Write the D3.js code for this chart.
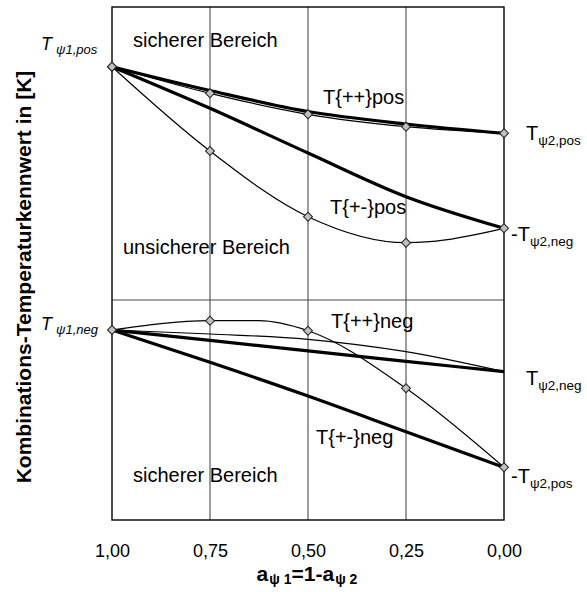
<!DOCTYPE html>
<html>
<head>
<meta charset="utf-8">
<script src="https://cdn.jsdelivr.net/npm/d3@7"></script>
<style>
  html, body { margin: 0; padding: 0; background: #fff; }
  svg { display: block; font-family: "Liberation Sans", Arial, sans-serif; }
</style>
</head>
<body>
<svg id="chart" width="587" height="592"></svg>
<script>
// Share of load case 1 (a_psi1); the x axis runs from 1,00 down to 0,00
const aTicks = [1.00, 0.75, 0.50, 0.25, 0.00];

// Upper half: positive combination values
const tPlusPlusPos      = [23.33, 20.67, 18.57, 17.33, 16.67];
const tPlusPlusPosRef   = [23.33, 20.95, 18.85, 17.60, 16.67];
const aPlusMinusPos     = [1.00, 0.75, 0.50, 0.25, 0.19, 0.00];
const tPlusMinusPos     = [23.33, 14.90, 8.33, 5.73, 5.83, 7.17];
const tPlusMinusPosRef  = [23.33, 19.17, 14.70, 10.33, 7.17];

// Lower half: negative combination values
const aPlusPlusNeg      = [1.00, 0.75, 0.625, 0.50, 0.25, 0.00];
const tPlusPlusNeg      = [-3.00, -2.07, -2.07, -3.07, -8.83, -16.73];
const tNegThin          = [-3.00, -3.40, -3.93, -5.17, -7.17];
const tNegRef           = [-3.00, -4.04, -5.09, -6.13, -7.17];
const tPlusMinusNegRef  = [-3.00, -6.23, -9.60, -13.17, -16.73];

const tDomain = [-22, 29.3];

const svg = d3.select("#chart");
const plotLeft = 112, plotRight = 504, plotTop = 7, plotBottom = 520;

const x = d3.scaleLinear().domain([1, 0]).range([plotLeft, plotRight]);
const y = d3.scaleLinear().domain(tDomain).range([plotBottom, plotTop]);

const zip = (as, ts) => as.map((a, i) => ({ a, t: ts[i] }));

// vertical grid lines
svg.append("g").selectAll("line")
  .data(aTicks.slice(1, -1))
  .join("line")
  .attr("x1", d => x(d)).attr("x2", d => x(d))
  .attr("y1", plotTop).attr("y2", plotBottom)
  .attr("stroke", "#4a4a4a").attr("stroke-width", 1.1);

// zero line separating positive and negative half
svg.append("line")
  .attr("x1", plotLeft).attr("x2", plotRight)
  .attr("y1", y(0)).attr("y2", y(0))
  .attr("stroke", "#4a4a4a").attr("stroke-width", 1.1);

// plot frame
svg.append("rect")
  .attr("x", plotLeft).attr("y", plotTop)
  .attr("width", plotRight - plotLeft).attr("height", plotBottom - plotTop)
  .attr("fill", "none").attr("stroke", "#000").attr("stroke-width", 1.4);

// region labels
const region = svg.append("g").attr("font-size", 20).attr("fill", "#000");
region.append("text").attr("x", 133).attr("y", 47).text("sicherer Bereich");
region.append("text").attr("x", 123).attr("y", 254).text("unsicherer Bereich");
region.append("text").attr("x", 133).attr("y", 482).text("sicherer Bereich");

const line = d3.line()
  .x(d => x(d.a))
  .y(d => y(d.t))
  .curve(d3.curveMonotoneX);

const series = [
  { pts: zip(aTicks, tPlusPlusPosRef), w: 3.2, marked: false },
  { pts: zip(aTicks, tPlusPlusPos), w: 1.2, marked: true },
  { pts: zip(aTicks, tPlusMinusPosRef), w: 3.2, marked: false },
  { pts: zip(aPlusMinusPos, tPlusMinusPos), w: 1.2, marked: true },
  { pts: zip(aTicks, tNegRef), w: 3.2, marked: false },
  { pts: zip(aTicks, tNegThin), w: 1.2, marked: false },
  { pts: zip(aTicks, tPlusMinusNegRef), w: 3.2, marked: false },
  { pts: zip(aPlusPlusNeg, tPlusPlusNeg), w: 1.2, marked: true }
];

svg.append("g").selectAll("path")
  .data(series)
  .join("path")
  .attr("d", d => line(d.pts))
  .attr("fill", "none")
  .attr("stroke", "#000")
  .attr("stroke-width", d => d.w)
  .attr("stroke-linejoin", "round");

// diamond markers on the quarter steps of the marked series
const isQuarter = a => Math.abs(a * 4 - Math.round(a * 4)) < 1e-6;
const markers = series.filter(s => s.marked).flatMap(s => s.pts.filter(p => isQuarter(p.a)));
const diamond = d3.symbol().type(d3.symbolSquare).size(40);
svg.append("g").selectAll("path")
  .data(markers)
  .join("path")
  .attr("d", diamond)
  .attr("transform", d => `translate(${x(d.a)},${y(d.t)}) rotate(45)`)
  .attr("fill", "#c0c0c0")
  .attr("stroke", "#222")
  .attr("stroke-width", 1);

// curve names
const names = svg.append("g").attr("font-size", 20);
names.append("text").attr("x", 323).attr("y", 104).text("T{++}pos");
names.append("text").attr("x", 330).attr("y", 214).text("T{+-}pos");
names.append("text").attr("x", 331).attr("y", 328).text("T{++}neg");
names.append("text").attr("x", 316).attr("y", 444).text("T{+-}neg");

// end-point labels on the left (italic)
function leftLabel(yb, sub) {
  const t = svg.append("text").attr("x", 41).attr("y", yb)
    .attr("font-style", "italic").attr("font-size", 18);
  t.append("tspan").text("T");
  t.append("tspan").attr("dx", 4).attr("dy", 4).attr("font-size", 13).text(sub);
}
leftLabel(50, "ψ1,pos");
leftLabel(330, "ψ1,neg");

// end-point labels on the right
function rightLabel(xs, yb, main, sub) {
  const t = svg.append("text").attr("x", xs).attr("y", yb).attr("font-size", 20);
  t.append("tspan").text(main);
  t.append("tspan").attr("dy", 5).attr("font-size", 13.5).text(sub);
}
rightLabel(526, 140, "T", "ψ2,pos");
rightLabel(511, 241, "-T", "ψ2,neg");
rightLabel(526, 385, "T", "ψ2,neg");
rightLabel(511, 483, "-T", "ψ2,pos");

// x axis tick labels
const commaFmt = d3.formatLocale({ decimal: ",", thousands: ".", grouping: [3], currency: ["", ""] }).format(".2f");
const xAxis = svg.append("g")
  .attr("transform", `translate(0,${plotBottom})`)
  .call(d3.axisBottom(x).tickValues(aTicks).tickFormat(commaFmt).tickSize(0).tickPadding(24));
xAxis.select(".domain").remove();
xAxis.selectAll("text")
  .attr("font-size", 18)
  .attr("font-family", "Liberation Sans, Arial, sans-serif")
  .attr("fill", "#000");

// x axis title
const xt = svg.append("text")
  .attr("x", 307).attr("y", 581)
  .attr("text-anchor", "middle")
  .attr("font-weight", "bold").attr("font-size", 21);
xt.append("tspan").text("a");
xt.append("tspan").attr("dx", 1).attr("dy", 3).attr("font-size", 14).text("ψ 1");
xt.append("tspan").attr("dy", -3).text("=1-a");
xt.append("tspan").attr("dx", 1).attr("dy", 3).attr("font-size", 14).text("ψ 2");

// y axis title
svg.append("text")
  .attr("transform", "translate(31,277) rotate(-90)")
  .attr("text-anchor", "middle")
  .attr("font-weight", "bold").attr("font-size", 21)
  .text("Kombinations-Temperaturkennwert in [K]");
</script>
</body>
</html>
